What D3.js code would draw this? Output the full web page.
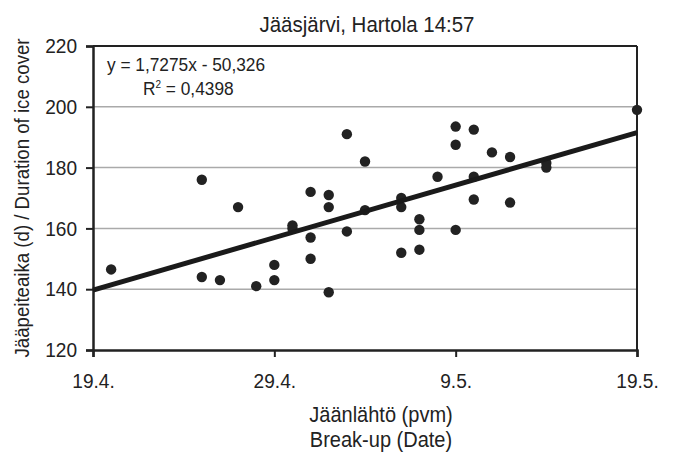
<!DOCTYPE html>
<html>
<head>
<meta charset="utf-8">
<script src="https://cdn.jsdelivr.net/npm/d3@7"></script>
<style>
  body { margin: 0; background: #fff; }
  text { font-family: "Liberation Sans", Arial, sans-serif; fill: #222; }
</style>
</head>
<body>
<svg id="chart" width="674" height="455"></svg>
<script>
// break-up day (day number, 110 = 19.4.) and ice cover duration (days)
const breakupDay = [111, 116, 116, 117, 118, 119, 120, 120, 121, 121,
                    122, 122, 122, 123, 123, 123, 124, 124, 125, 125,
                    127, 127, 127, 128, 128, 128, 129, 130, 130, 130,
                    131, 131, 131, 132, 133, 133, 135, 135, 140];
const iceDays = [146.5, 176, 144, 143, 167, 141, 148, 143, 161, 160,
                 172, 157, 150, 171, 167, 139, 191, 159, 182, 166,
                 170, 167, 152, 163, 159.5, 153, 177, 193.5, 187.5, 159.5,
                 192.5, 177, 169.5, 185, 183.5, 168.5, 181.5, 180, 199];

const xTicks = [110, 120, 130, 140];
const xTickLabels = ["19.4.", "29.4.", "9.5.", "19.5."];
const yTicks = [120, 140, 160, 180, 200, 220];

// trendline from the chart's own equation
const slope = 1.7275;
const intercept = -50.326;

const svg = d3.select("svg#chart");
const plotLeft = 93, plotRight = 637, plotTop = 46, plotBottom = 350;
const narrow = 0.91; // horizontal squeeze to mimic a narrow font

const xScale = d3.scaleLinear().domain([110, 140]).range([plotLeft, plotRight]);
const yScale = d3.scaleLinear().domain([120, 220]).range([plotBottom, plotTop]);

function addText(x, y, str, size, anchor, rotate) {
    return svg.append("text")
        .attr("transform", `translate(${x},${y})` + (rotate ? ` rotate(${rotate})` : "") + ` scale(${narrow},1)`)
        .attr("text-anchor", anchor || "start")
        .style("font-size", size + "px")
        .text(str);
}

// gridlines
svg.append("g")
    .selectAll("line")
    .data(yTicks.slice(1, -1))
    .enter()
    .append("line")
    .attr("x1", plotLeft).attr("x2", plotRight)
    .attr("y1", d => yScale(d)).attr("y2", d => yScale(d))
    .attr("stroke", "#aaa")
    .attr("stroke-width", 1.5);

// frame top/right
svg.append("line")
    .attr("x1", plotLeft).attr("x2", plotRight)
    .attr("y1", plotTop).attr("y2", plotTop)
    .attr("stroke", "#222").attr("stroke-width", 2);
svg.append("line")
    .attr("x1", plotRight).attr("x2", plotRight)
    .attr("y1", plotTop).attr("y2", plotBottom)
    .attr("stroke", "#222").attr("stroke-width", 2);

// axes
const xAxis = svg.append("g")
    .attr("transform", `translate(0,${plotBottom})`)
    .call(d3.axisBottom(xScale).tickValues(xTicks)
        .tickFormat((d, i) => xTickLabels[i]).tickSize(7).tickPadding(16));
const yAxis = svg.append("g")
    .attr("transform", `translate(${plotLeft},0)`)
    .call(d3.axisLeft(yScale).tickValues(yTicks).tickSize(7).tickPadding(9));

[xAxis, yAxis].forEach(a => {
    a.select(".domain").attr("stroke", "#222").attr("stroke-width", 2.5);
    a.selectAll(".tick line").attr("stroke", "#222").attr("stroke-width", 2);
    a.selectAll(".tick text")
        .style("font-size", "21px")
        .attr("fill", "#222")
        .each(function () {
            const t = d3.select(this);
            t.attr("x", (+t.attr("x") || 0) / narrow).attr("transform", `scale(${narrow},1)`);
        });
});

// points
svg.append("g")
    .selectAll("circle")
    .data(breakupDay.map((d, i) => [d, iceDays[i]]))
    .enter()
    .append("circle")
    .attr("r", 5.2)
    .attr("cx", d => xScale(d[0]))
    .attr("cy", d => yScale(d[1]))
    .attr("fill", "#222");

// trendline
const line = d3.line()
    .x(d => xScale(d))
    .y(d => yScale(slope * d + intercept));
svg.append("path")
    .datum([110, 140])
    .attr("d", line)
    .attr("stroke", "#1a1a1a")
    .attr("stroke-width", 5)
    .attr("fill", "none");

// texts
addText(367, 32, "Jääsjärvi, Hartola 14:57", 22.5, "middle");

addText(107, 71, "y = 1,7275x - 50,326", 19);
const r2 = addText(143, 95, "", 19);
r2.append("tspan").text("R");
r2.append("tspan").attr("dy", -7).style("font-size", "11px").text("2");
r2.append("tspan").attr("dy", 7).text(" = 0,4398");

addText(381, 422, "Jäänlähtö (pvm)", 22, "middle");
addText(381, 447, "Break-up (Date)", 22, "middle");

addText(29, (plotTop + plotBottom) / 2, "Jääpeiteaika (d) / Duration of ice cover", 20.5, "middle", -90);
</script>
</body>
</html>
